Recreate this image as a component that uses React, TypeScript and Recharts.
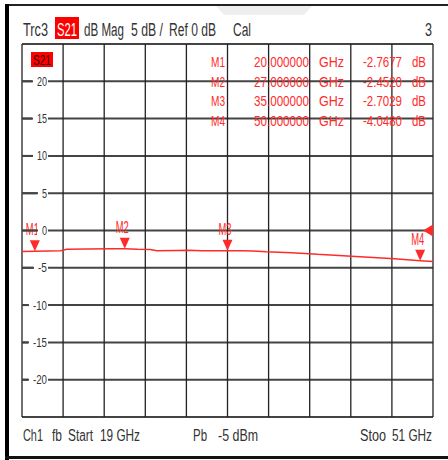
import React from 'react';
import { LineChart, Line, XAxis, YAxis, CartesianGrid, ReferenceDot, Customized } from 'recharts';

// trace S21 (dB) vs frequency (GHz)
const freqGHz = [19, 20, 21, 22, 22.5, 24, 26, 27, 28, 29, 29.5, 31, 32, 33, 34, 35, 36, 37, 38, 39, 40, 41, 42, 43, 44, 45, 46, 47, 48, 49, 50, 51];
const s21dB = [-2.8, -2.77, -2.74, -2.7, -2.5, -2.47, -2.46, -2.45, -2.52, -2.55, -2.7, -2.68, -2.66, -2.7, -2.72, -2.7, -2.72, -2.76, -2.85, -2.9, -2.98, -3.08, -3.2, -3.28, -3.38, -3.48, -3.58, -3.68, -3.8, -3.92, -4.05, -4.15];

// grid divisions
const xDivisions = [19, 22.2, 25.4, 28.6, 31.8, 35, 38.2, 41.4, 44.6, 47.8, 51];
const yDivisions = [-25, -20, -15, -10, -5, 0, 5, 10, 15, 20, 25];

// markers
const markerNames = ['M1', 'M2', 'M3', 'M4'];
const markerFreq = [20, 27, 35, 50];
const markerFreqText = ['20.000000', '27.000000', '35.000000', '50.000000'];
const markerValText = ['-2.7677', '-2.4520', '-2.7029', '-4.0480'];
const markerVal = [-2.7677, -2.452, -2.7029, -4.048];

const data = freqGHz.map((f, i) => ({ f, v: s21dB[i] }));

const RED = '#ff2b2b';
const FONT = '"Liberation Sans Narrow", "Liberation Sans", Arial, sans-serif';
const PLOT_LEFT = 22;

const YTick = (props: any) => {
  const { y, payload } = props;
  const v = payload.value;
  if (v === 25 || v === -25) return null;
  const label = String(v);
  const w = label.length * 5 + (v < 0 ? -1 : 0);
  const right = PLOT_LEFT + 25;
  return (
    <g>
      <rect x={right - w - 5} y={y - 6} width={w + 6} height={12} fill="#fff" />
      <line x1={PLOT_LEFT} x2={right - w - 4} y1={y} y2={y} stroke="#444" strokeWidth={2} />
      <text x={right} y={y + 4.5} textAnchor="end" fontFamily={FONT} fontSize={13} fill="#333"
        textLength={w} lengthAdjust="spacingAndGlyphs">{label}</text>
    </g>
  );
};

const Marker = (name: string) => (props: any) => {
  const { cx, cy } = props;
  return (
    <g>
      <polygon points={`${cx - 5},${cy - 11} ${cx + 5},${cy - 11} ${cx},${cy}`} fill={RED} />
      <text x={cx - 2.5} y={cy - 16} textAnchor="middle" fontFamily={FONT} fontSize={16} fill={RED}
        textLength={13} lengthAdjust="spacingAndGlyphs">{name}</text>
    </g>
  );
};

const RefLevel = (props: any) => {
  const { cx, cy } = props;
  return <polygon points={`${cx},${cy - 6} ${cx},${cy + 6} ${cx - 10},${cy}`} fill={RED} />;
};

type TProps = { s: string; x: number; y: number; len: number; size?: number; fill?: string; anchor?: string };

const T = ({ s, x, y, len, size = 18, fill = '#333', anchor = 'start' }: TProps) => (
  <text x={x} y={y} fontFamily={FONT} fontSize={size} fill={fill} textAnchor={anchor as any}
    textLength={len} lengthAdjust="spacingAndGlyphs">{s}</text>
);

const Annotations = () => {
  const rowY = [67, 86.5, 106, 125.5];
  return (
    <g>
      {/* window frame */}
      <rect x={5} y={4} width={443} height={2} fill="#222" />
      <polygon points="216,6 312,6 304,15 224,15" fill="#eeeeee" />
      <rect x={5} y={4} width={4} height={456} fill="#000" />
      <rect x={5} y={456} width={443} height={3} fill="#111" />

      {/* header */}
      <T s="Trc3" x={23} y={36} len={25} />
      <rect x={55} y={17} width={24} height={22} fill="#ff0000" />
      <T s="S21" x={57} y={36} len={20} fill="#fff" />
      <T s="dB Mag" x={84} y={36} len={40} />
      <T s="5 dB /" x={131} y={36} len={32} />
      <T s="Ref 0 dB" x={169} y={36} len={47} />
      <T s="Cal" x={233} y={36} len={18} />
      <T s="3" x={425} y={36} len={7} />

      {/* trace tag */}
      <rect x={31} y={52} width={22} height={15} fill="#ff0000" />
      <T s="S21" x={33} y={65} len={18} size={15} fill="#300" />

      {/* marker table */}
      {markerNames.map((m, i) => (
        <g key={m}>
          <T s={m} x={225} y={rowY[i]} len={14} size={15} fill={RED} anchor="end" />
          <T s={markerFreqText[i]} x={309} y={rowY[i]} len={55} size={15} fill={RED} anchor="end" />
          <T s="GHz" x={319} y={rowY[i]} len={25} size={15} fill={RED} />
          <T s={markerValText[i]} x={402} y={rowY[i]} len={39} size={15} fill={RED} anchor="end" />
          <T s="dB" x={412} y={rowY[i]} len={14} size={15} fill={RED} />
        </g>
      ))}

      {/* footer */}
      <T s="Ch1" x={23} y={441} len={20} size={16} />
      <T s="fb" x={52} y={441} len={10} size={16} />
      <T s="Start" x={68} y={441} len={25} size={16} />
      <T s="19 GHz" x={100} y={441} len={40} size={16} />
      <T s="Pb" x={193} y={441} len={14} size={16} />
      <T s="-5 dBm" x={218} y={441} len={40} size={16} />
      <T s="Stoo" x={360} y={441} len={26} size={16} />
      <T s="51 GHz" x={392} y={441} len={40} size={16} />
    </g>
  );
};

export default function App() {
  return (
    <div style={{ position: 'absolute', left: 0, top: 0, width: 448, height: 460, background: '#fff' }}>
      <LineChart width={448} height={460} data={data} margin={{ top: 44, right: 15, bottom: 43, left: 21 }}>
        <CartesianGrid vertical={false} stroke="#444" strokeWidth={2} />
        <CartesianGrid horizontal={false} stroke="#222" strokeWidth={1.3} />
        <XAxis type="number" dataKey="f" domain={[19, 51]} ticks={xDivisions} interval={0} hide allowDataOverflow />
        <YAxis type="number" domain={[-25, 25]} ticks={yDivisions} interval={0} width={1}
          axisLine={false} tickLine={false} tick={<YTick />} allowDataOverflow />
        <Customized component={Annotations} />
        <Line type="linear" dataKey="v" stroke={RED} strokeWidth={1.5} dot={false} isAnimationActive={false} />
        {markerNames.map((m, i) => (
          <ReferenceDot key={m} x={markerFreq[i]} y={markerVal[i]} r={5} shape={Marker(m)} ifOverflow="visible" />
        ))}
        <ReferenceDot x={51} y={0} r={5} shape={RefLevel} ifOverflow="visible" />
      </LineChart>
    </div>
  );
}
